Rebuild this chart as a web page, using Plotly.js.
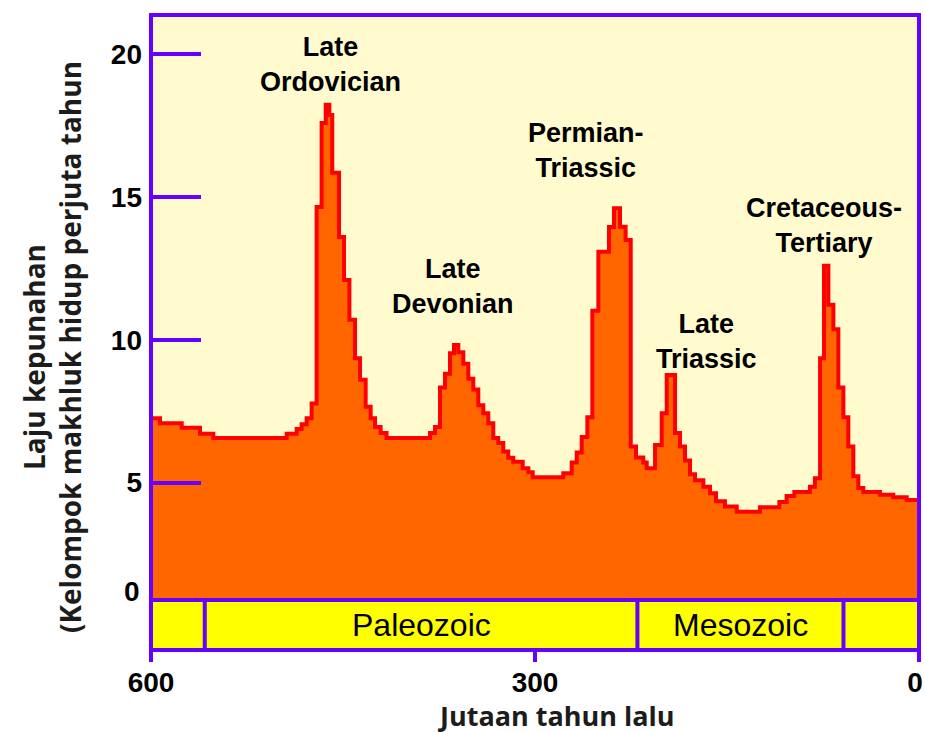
<!DOCTYPE html>
<html>
<head>
<meta charset="utf-8">
<script src="https://cdn.plot.ly/plotly-3.0.1.min.js"></script>
<style>html,body{margin:0;padding:0;background:#fff;}#chart{width:925px;height:732px;}</style>
</head>
<body>
<div id="chart"></div>
<script>
// ---- data ----
// Start of each step, in millions of years ago (descending), and extinction rate of that step
const ages = [600, 593, 576, 561.7, 551.3, 494, 486.2, 482.3, 478.4, 474.5, 470.6, 466.7, 463.5, 460.7, 458.4,
  453.1, 449.2, 445, 440.6, 436.7, 432.3, 428.4, 425, 420.6, 416, 382, 378.1, 374.2, 370.3, 366.4, 363.3,
  359.9, 356, 352.1, 348.2, 344.3, 340.4, 336.5, 332.6, 328.7, 324.8, 320.9, 317, 309.6, 305.2, 301.8,
  277.9, 271.3, 267.4, 263.5, 259.1, 255.2, 250.5, 242.2, 238.3, 233.6, 229.2, 225.2, 221.1, 215.4, 212.7,
  206.2, 201, 197.1, 190.6, 186.7, 182.8, 178.9, 175, 168.5, 163.3, 158.6, 151.6, 142.4, 124.2, 109.1,
  103.4, 97.4, 85.2, 81.3, 77.3, 74.2, 70.8, 66.9, 63, 59.1, 55.2, 51.3, 47.4, 43.5, 30.5, 20.1, 9.6, 0];
const rates = [7.25, 7.08, 6.92, 6.71, 6.56, 6.71, 6.88, 7.04, 7.25, 7.77, 14.65, 17.6, 18.24, 17.88, 15.85,
  13.6, 12.1, 10.7, 9.36, 8.6, 7.66, 7.25, 6.95, 6.74, 6.56, 6.74, 6.95, 8.33, 8.81, 9.53, 9.82,
  9.57, 9.16, 8.64, 8.26, 7.71, 7.43, 7.08, 6.56, 6.39, 6.09, 5.87, 5.73, 5.5, 5.36, 5.19,
  5.33, 5.7, 6.05, 6.6, 7.29, 11.02, 13.09, 13.95, 14.61, 13.96, 13.5, 6.26, 5.88, 5.7, 5.5,
  6.32, 7.43, 8.77, 6.74, 6.26, 5.77, 5.29, 5.08, 4.85, 4.63, 4.35, 4.16, 3.98, 4.14, 4.32,
  4.53, 4.67, 4.85, 5.15, 9.36, 12.6, 11.23, 10.37, 8.33, 7.29, 6.26, 5.22, 4.81, 4.67, 4.57, 4.49, 4.39, 4.39];

// Geological era band
const eraBounds = [600, 558, 220, 59, 0];
const eraNames = ["", "Paleozoic", "Mesozoic", ""];

// Mass-extinction labels
const peakNames = ["Late<br>Ordovician", "Late<br>Devonian", "Permian-<br>Triassic", "Late<br>Triassic", "Cretaceous-<br>Tertiary"];

// Axis ticks
const xTickVals = [600, 300, 0];
const xTickText = ["600", "300", "0\u00a0"];
const yTickVals = [5, 10, 15, 20];
const yTickText = ["5", "10", "15", "20"];
const yZeroLabel = "0";

const xTitle = "Jutaan tahun lalu";
const yTitleLines = ["Laju kepunahan", "(Kelompok makhluk hidup perjuta tahun"];

// ---- styling ----
const PURPLE = "#6600ff";
const tickFont = {family: "Liberation Sans, Arial, sans-serif", size: 28, color: "#000", weight: "bold"};
const labelFont = {family: "Liberation Sans, Arial, sans-serif", size: 27, color: "#000", weight: "bold"};
const eraFont = {family: "Liberation Sans, Arial, sans-serif", size: 32, color: "#000"};
const titleFont = {family: "Open Sans, Noto Sans, sans-serif", size: 28, color: "#1c1c1c", weight: "bold"};
const xTitleFont = {family: "Open Sans, Noto Sans, sans-serif", size: 27, color: "#1c1c1c", weight: "bold"};

const bandTop = 0.0787; // paper fraction where the era band ends

const trace = {
  x: ages, y: rates, type: "scatter", mode: "lines",
  line: {shape: "hv", color: "#ff0000", width: 4},
  fill: "tozeroy", fillcolor: "#ff6600",
  xaxis: "x", yaxis: "y", hoverinfo: "skip", showlegend: false
};

const shapes = [];
for (let i = 0; i < eraNames.length; i++) {
  shapes.push({type: "rect", xref: "x", yref: "paper", x0: eraBounds[i], x1: eraBounds[i + 1],
    y0: 0, y1: bandTop, fillcolor: "#ffff00", line: {width: 0}, layer: "below"});
}
for (let i = 1; i < eraBounds.length - 1; i++) {
  shapes.push({type: "line", xref: "x", yref: "paper", x0: eraBounds[i], x1: eraBounds[i],
    y0: 0, y1: bandTop, line: {color: PURPLE, width: 4}});
}
shapes.push({type: "line", xref: "paper", yref: "paper", x0: 0, x1: 1, y0: bandTop, y1: bandTop,
  line: {color: PURPLE, width: 4}});
shapes.push({type: "rect", xref: "paper", yref: "paper", x0: 0, x1: 1, y0: 0, y1: 1,
  line: {color: PURPLE, width: 4}, fillcolor: "rgba(0,0,0,0)"});

const annotations = [];
for (let i = 0; i < eraNames.length; i++) {
  if (!eraNames[i]) continue;
  annotations.push({xref: "x", yref: "paper", x: (eraBounds[i] + eraBounds[i + 1]) / 2, y: bandTop / 2,
    text: eraNames[i], showarrow: false, font: eraFont, xanchor: "center", yanchor: "middle"});
}
// peak label placements (x in Myr, y in rate units)
const peakPos = [[459.4, 19.63], [364.1, 11.88], [260.2, 16.65], [166.4, 9.96], [74.2, 14.02]];
peakNames.forEach((t, i) => {
  annotations.push({xref: "x", yref: "y", x: peakPos[i][0], y: peakPos[i][1], text: t, showarrow: false,
    font: labelFont, xanchor: "center", yanchor: "middle", align: "center"});
});
annotations.push({xref: "paper", yref: "y", x: 0, y: 1.2, text: yZeroLabel, showarrow: false,
  font: tickFont, xanchor: "right", yanchor: "middle", xshift: -9});
annotations.push({xref: "paper", yref: "paper", x: (556 - 151) / 768, y: (650 - 715) / 635, text: xTitle, showarrow: false,
  font: xTitleFont, xanchor: "center", yanchor: "middle"});
annotations.push({xref: "paper", yref: "paper", x: (34 - 151) / 768, y: (650 - 357) / 635, text: yTitleLines[0],
  showarrow: false, font: titleFont, textangle: -90, xanchor: "center", yanchor: "middle"});
annotations.push({xref: "paper", yref: "paper", x: (70 - 151) / 768, y: (650 - 347) / 635, text: yTitleLines[1],
  showarrow: false, font: titleFont, textangle: -90, xanchor: "center", yanchor: "middle"});

const layout = {
  width: 925, height: 732,
  margin: {l: 151, r: 6, t: 15, b: 82, pad: 0},
  paper_bgcolor: "#ffffff", plot_bgcolor: "#fffbcf",
  showlegend: false,
  xaxis: {range: [600, 0], anchor: "free", position: 0, tickvals: xTickVals, ticktext: xTickText,
    ticks: "outside", ticklen: 11, tickwidth: 4, tickcolor: PURPLE, tickfont: tickFont, ticklabelstandoff: -4,
    ticklabeloverflow: "allow",
    showgrid: false, zeroline: false, showline: false, fixedrange: true},
  yaxis: {domain: [bandTop, 1], range: [0.886, 21.38], anchor: "x", tickvals: yTickVals, ticktext: yTickText,
    ticks: "inside", ticklen: 50, tickwidth: 4, tickcolor: PURPLE, tickfont: tickFont, ticklabelstandoff: 8,
    showgrid: false, zeroline: false, showline: false, fixedrange: true},
  shapes: shapes,
  annotations: annotations
};

Plotly.newPlot("chart", [trace], layout, {displayModeBar: false, staticPlot: true});
</script>
</body>
</html>
